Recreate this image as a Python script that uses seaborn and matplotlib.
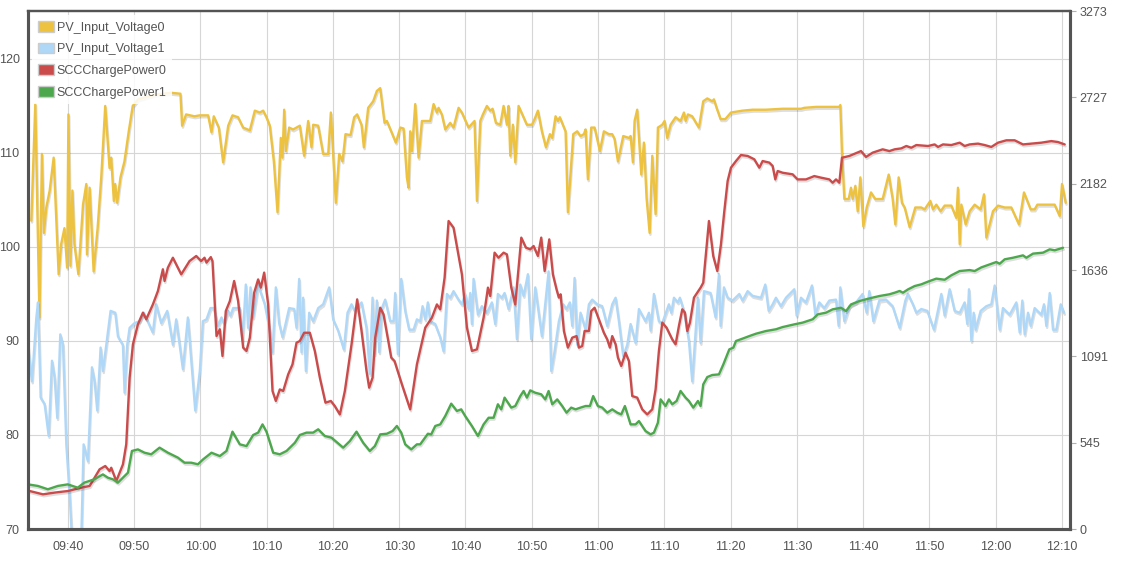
import numpy as np
import pandas as pd
import matplotlib
matplotlib.use("Agg")
import matplotlib.pyplot as plt
import matplotlib.dates as mdates
import matplotlib.patheffects as pe
from matplotlib.patches import Patch
import seaborn as sns

# ---------------- data (minutes after 09:34) ----------------
pv0_t = [0.5, 1.1, 1.73, 2.1, 2.4, 2.76, 3.27, 3.87, 4.62, 5.0,
         5.5, 5.9, 6.1, 6.4, 6.7, 7.0, 7.6, 8.3, 8.8, 8.9,
         9.3, 9.9, 10.5, 11.05, 11.65, 12.3, 12.55, 12.95, 13.15, 13.45,
         13.95, 14.55, 15.2, 15.8, 16.6, 19.1, 21.6, 23.0, 23.25, 23.85,
         25.1,
         25.92, 27.18, 27.68, 28.03, 28.79, 29.44, 30.2, 30.85, 31.7, 32.46,
         33.47, 34.22, 34.97, 35.48, 35.98, 36.48, 37.09, 37.64, 38.14, 38.39,
         38.65, 38.9, 39.4, 40.0, 41.01, 41.66, 42.27, 42.77, 43.02, 43.78,
         44.53, 45.29, 45.69, 46.04, 46.44, 46.95, 47.45, 47.9, 48.66, 49.21,
         49.66, 50.32, 50.67, 51.32, 52.08,
         52.63, 53.14, 53.79, 54.14, 54.8, 55.5, 56.16, 56.66, 57.16, 57.41,
         57.66, 57.92, 58.42, 58.92, 59.43, 60.68, 61.19, 61.69, 61.94, 62.44,
         62.95, 63.7, 64.2, 64.96, 65.46, 66.47, 67.12, 67.37, 67.73, 68.23,
         68.63, 69.23, 69.74, 70.09, 70.59, 71.25, 71.75, 72.25, 72.5, 72.76,
         73.16, 73.51, 74.01, 74.77, 75.27, 76.03, 76.43, 76.93, 77.53, 78.14,
         78.74, 79.09, 79.59, 79.94, 80.24, 81.1, 81.45, 82.26, 82.86, 83.36,
         83.87, 84.12, 84.47, 84.97, 85.48, 86.28, 86.88, 87.64, 88.14, 88.49,
         89.0, 89.8, 90.66, 90.91, 91.26, 91.51, 91.91, 92.52, 92.92, 93.32,
         93.78, 94.18, 94.68, 95.03, 95.69, 96.04, 96.44, 96.94, 97.7, 98.45,
         98.96, 99.21, 99.56, 100.21, 101.22, 101.87, 102.48, 103.23, 103.48, 103.89,
         104.49,
         105.2, 106.05, 107.81, 109.32, 111.34, 113.85, 116.62, 117.12, 118.88, 122.4,
         122.55, 122.8, 123.16, 123.81, 124.16, 124.41, 124.82, 125.17, 125.57, 126.02,
         126.53, 127.18, 127.83, 128.94, 129.85, 130.45, 130.85,
         131.35, 131.85, 132.26, 133.01, 133.86, 134.77, 135.27, 136.13, 136.53, 137.03,
         137.69, 138.29, 139.3, 140.05, 140.3, 140.56, 140.81, 141.46, 142.06, 142.82,
         143.72, 144.23, 144.58, 145.58, 146.34, 147.35, 148.35, 149.51, 150.26, 151.27,
         151.87, 152.28, 153.88, 154.89, 155.65, 156.0, 156.55]
pv0_v = [102.8, 115.2, 92.5, 109.9, 101.5, 104.2, 106, 109.5, 97.1, 100.3,
         102, 97.8, 114.1, 98, 106, 100.3, 97.1, 104.5, 106.7, 99.2,
         106.3, 97.4, 102, 107.4, 115, 108.4, 109.5, 104.9, 106.7, 104.7,
         107.4, 109.1, 112.3, 115, 115.7, 116.2, 116.4, 116.3, 112.9, 114.1,
         113.9,
         114, 114, 112.2, 113.9, 112.7, 109, 112.9, 114, 113.8, 112.7,
         112.4, 114.5, 114.3, 114.5, 113.8, 112.9, 109.1, 103.7, 111.6, 109.5,
         114.6, 110.2, 112.7, 112.5, 112.9, 109.7, 113.4, 110.6, 113, 112.9,
         109.9, 109.9, 114.3, 109.9, 104.7, 109.9, 109.1, 112, 111.9, 113.8,
         114.1, 113, 110.6, 114.8, 115.5,
         116.6, 116.9, 113.2, 113.4, 112.3, 111.1, 112.7, 112.6, 107.4, 106.3,
         112.3, 110.2, 115.2, 109.5, 113.4, 113.4, 115.2, 114.3, 114.8, 114.1,
         112.5, 113.2, 112.7, 114.8, 114.3, 112.7, 113.2, 113.4, 104.9, 113.4,
         114.1, 115, 114.5, 114.7, 113.2, 113, 115, 113, 115, 109.7,
         113, 109, 115, 113.8, 113, 113, 113.6, 114.5, 112.3, 110.6,
         112, 111.6, 113.9, 113.4, 113.8, 112.3, 103.7, 112, 112.3, 111.8,
         112, 112.5, 107.2, 112.7, 112.7, 110.2, 112.3, 112, 112, 111.5,
         109.1, 111.8, 111.6, 111.8, 109, 113.4, 114.6, 107.7, 111.1, 105.2,
         101.5, 109.7, 103.5, 112.7, 113, 113.4, 111.6, 113, 113.8, 113.4,
         114.3, 113.4, 114.1, 113.9, 112.7, 115.5, 115.8, 115.5, 115.7, 114.8,
         113.6,
         113.6, 114.3, 114.5, 114.6, 114.6, 114.7, 114.7, 114.8, 114.9, 114.9,
         115.1, 109.9, 105.1, 105.1, 106.3, 105.1, 106.5, 103.8, 107.4, 102.2,
         104.2, 105.8, 105.1, 105.1, 107.7, 105.1, 102.4,
         107.4, 104.7, 104.2, 102.1, 104.2, 104.2, 104, 104.9, 104, 104.5,
         103.8, 104.4, 104.4, 103.1, 106.3, 100.3, 104.5, 102.4, 103.8, 104.5,
         104, 105.6, 101, 103.8, 104.4, 104.2, 104.2, 102.4, 105.8, 104,
         104, 104.5, 104.5, 104.5, 103.3, 106.7, 104.7]

pv1_t = [0, 0.6, 1.26, 1.51, 1.91, 2.51, 3.12, 3.62, 4.02, 4.42,
         4.87, 5.28, 5.78, 6.28, 6.78, 7.54, 8.04, 8.39, 9.05, 9.65,
         10.05, 10.45, 10.95, 11.31, 11.81, 12.46, 13.17, 13.57, 14.32, 14.57,
         14.97, 15.33, 16.08, 16.83, 17.49, 18.84, 19.35, 20.1, 21.01, 21.86,
         22.36, 23.37, 24.12, 25.23, 25.92, 26.38, 26.93, 27.53, 28.03, 28.69,
         29.19, 29.54, 30.2, 30.55, 30.95, 31.96, 32.36, 32.86, 33.21, 33.57,
         33.97, 34.72, 35.73, 36.48, 36.89, 37.39, 37.89, 38.4, 39.4, 40.16,
         40.51, 40.91, 41.26, 41.51, 41.92, 42.42, 43.02, 43.78, 44.53, 45.44,
         46.04, 46.8, 47.65, 48.2, 48.81, 49.31, 50.32, 51.07, 51.57, 51.98,
         52.28, 52.63, 52.99, 53.39, 53.89, 54.65, 55.15, 55.4, 55.8, 56.31,
         56.91, 57.51, 58.17, 58.67, 59.17, 59.53, 59.93, 60.33, 60.68, 61.44,
         62.19, 62.7, 63.2, 63.7, 64.2, 64.96, 65.46, 65.96, 66.47, 66.72,
         66.97, 67.22, 67.88, 68.48, 69.23, 69.99, 70.49, 70.89, 71.5, 71.9,
         72.5, 73.26, 73.76, 74.27, 74.77, 75.42, 75.92, 76.53, 77.53, 78.54,
         78.94, 79.44, 80.09, 80.75, 81.25, 81.75, 82.11, 82.46, 82.86, 83.36,
         84.12, 84.62, 85.12, 85.88, 86.63, 87.39, 88.14, 88.65, 89.15, 89.8,
         90.41, 90.91, 91.66, 92.17, 93.17, 93.68, 93.93, 94.43, 95.18, 95.69,
         96.69, 97.05, 97.45, 98.05, 98.35, 98.96, 99.71, 100.21, 101.07, 101.47,
         101.98, 102.98, 103.74, 104.24, 104.49, 105.0,
         105.55, 106.3, 107.31, 107.81, 108.57, 109.32, 110.58, 111.23, 111.74, 112.34,
         112.84, 113.6, 114.35, 115.61, 115.96, 116.62, 117.37, 118.28, 118.78, 119.38,
         120.14, 120.89, 121.9, 122.3, 122.55, 123.16, 123.91, 124.92, 125.92, 126.53,
         126.93, 127.53, 128.44, 129.44, 130.45,
         131.5, 132.36, 132.76, 133.51, 134.02, 134.77, 135.68, 136.68, 137.79, 138.29,
         139.05, 139.8, 140.56, 141.31, 141.71, 141.96, 142.32, 142.67, 142.97, 143.72,
         144.58, 145.33, 145.84, 146.59, 147.09, 148.1, 149.11, 149.61, 150.01, 150.36,
         150.87, 151.27, 151.87, 152.88, 153.28, 153.63, 154.14, 154.64, 155.14, 155.8,
         156.3]
pv1_v = [89.5, 85.7, 92.5, 94.1, 84, 83.3, 79.9, 87.9, 86.1, 81.8,
         90.7, 89.6, 79, 73.7, 67, 65, 69, 79, 77.2, 87.2,
         85.7, 82.6, 89.3, 86.8, 89.6, 93.2, 93, 90.5, 89.6, 84.5,
         89.6, 91.4, 91.9, 92.1, 93, 90.9, 93.9, 91.9, 93.2, 89.6,
         92.3, 87, 92.5, 82.6, 86.8, 92.1, 92.3, 93.5, 93.5, 91.6,
         92.5, 91.9, 93.2, 92.7, 93.5, 93.5, 90, 96, 91.4, 95.7,
         92.5, 96, 93.9, 91.1, 88.8, 95.7, 91.9, 90.4, 93.5, 93.4,
         91.4, 96.6, 88.8, 94.6, 86.8, 93, 92.1, 93.5, 93.9, 95.7,
         92.3, 91.1, 89.1, 93, 93.9, 93.2, 94.1, 91.4, 86.5, 94.6,
         88.6, 94.3, 88.8, 93.5, 94.4, 92.1, 92.1, 95.1, 88.6, 96.6,
         93.2, 91.2, 91.2, 92.3, 92.1, 93.7, 92.3, 94.1, 92.1, 91.8,
         90.4, 88.9, 95, 94.6, 95.3, 94.4, 93.9, 95, 93.4, 95.1,
         91.8, 96.6, 92.8, 93.7, 93, 94.1, 91.8, 95, 94.6, 95.1,
         93.4, 95.7, 90.2, 96, 94.8, 97.1, 90.2, 95.7, 90.5, 97.4,
         86.8, 88.9, 92.1, 93.9, 93.4, 94.1, 91.6, 96.7, 89.6, 93,
         91.2, 93.9, 94.4, 93.9, 93.7, 91.6, 93.9, 94.6, 92.1, 88.4,
         89.6, 91.8, 89.8, 93.4, 92.1, 93, 91.1, 95, 92.1, 91.9,
         93.9, 93, 94.6, 94.1, 94.6, 93.2, 90, 85.7, 94.6, 89.8,
         95.3, 95.1, 92.5, 97.1, 91.6, 95.7,
         94.6, 94.3, 95, 94.3, 95.3, 94.8, 94.6, 96, 93.2, 93.9,
         94.6, 93.7, 94.6, 95.5, 92.7, 94.6, 94.1, 95.9, 92.8, 94.1,
         93.5, 94.3, 94.4, 91.6, 95.7, 92.1, 93.7, 94.1, 95, 93,
         95.3, 92.1, 94.3, 94.4, 93.7,
         91.4, 94.3, 95, 93.9, 93, 93.4, 93.2, 91.2, 95, 92.7,
         95.5, 93.2, 93, 94.1, 91.8, 95.5, 90, 93, 91.2, 93.2,
         93.7, 93.9, 95.9, 91.2, 93.5, 92.8, 94.1, 90.9, 94.3, 90.7,
         93, 91.6, 93.5, 92.8, 93.9, 91.6, 95.1, 91.2, 91.2, 93.9,
         93]

scc0_t = [0.25, 2.26, 4.02, 6.03, 8.04, 9.3, 10.8, 11.66, 12.31, 12.56,
          13.32, 14.32, 14.82, 15.33, 15.83, 16.58, 17.34, 17.84, 18.84, 19.6,
          20.35, 20.6, 21.1, 21.86, 23.12, 24.37, 25.38, 26.13, 26.63, 26.93,
          27.58, 27.83, 28.44, 28.94, 29.34, 29.84, 30.45, 31.1, 31.7, 32.46,
          32.96, 33.47, 34.12, 34.72, 35.13, 35.63, 36.23, 36.89, 37.39, 37.99,
          38.5, 39.25, 39.9, 40.51, 41.01, 41.66, 42.52, 43.27, 44.03, 44.88,
          45.69, 46.29, 47.05, 47.8, 48.81, 49.66, 50.32, 51.07, 51.47, 51.98,
          52.38, 53.14, 53.64, 54.8, 55.3, 56.41, 57.66, 58.67, 59.93, 60.93,
          61.69, 62.19, 62.85, 63.45, 64.2, 65.46, 66.22, 66.97, 67.73, 68.73,
          69.39, 69.74, 70.39, 70.99, 71.75, 72.25, 72.91, 73.51, 74.42, 75.12,
          75.77, 76.28, 76.93, 77.43, 77.94, 78.64, 79.19, 79.74, 80.09, 80.35,
          80.85, 81.45, 82.11, 82.76, 83.11, 83.61, 83.97, 84.62, 84.97, 85.48,
          86.13, 86.88, 87.39, 87.79, 88.14, 88.65, 89.0, 89.5, 90.15, 90.66,
          91.16, 91.91, 92.67, 93.42, 94.18, 94.68, 95.18, 95.69, 96.34, 97.2,
          97.7, 98.2, 98.71, 99.11, 99.46, 99.86, 100.47, 101.47, 101.87, 102.73,
          103.38, 103.99,
          104.54, 105.05, 105.55, 106.05, 106.81, 107.56, 108.57, 109.57, 110.33, 110.83,
          111.84, 112.34, 112.74, 113.1, 113.85, 115.36, 116.11, 117.37, 118.63, 119.64,
          120.89, 121.4, 121.9, 122.4, 122.8, 123.91, 125.67, 126.43, 127.43, 128.94,
          129.95, 130.75, 131.75, 132.51, 133.26, 134.02, 135.78, 136.78, 137.29, 138.04,
          139.3, 140.56, 141.31, 142.06, 143.32, 144.33, 145.33, 146.34, 147.6, 148.85,
          150.11, 151.37, 152.88, 154.39, 155.39, 156.4]
scc0_v = [240, 219, 230, 240, 261, 272, 377, 398, 366, 387,
          303, 408, 535, 956, 1167, 1293, 1367, 1325, 1419, 1504,
          1641, 1567, 1651, 1714, 1609, 1693, 1725, 1693, 1714, 1683,
          1718, 1693, 1219, 1262, 1093, 1377, 1440, 1567, 1440, 1146,
          1125, 1209, 1493, 1577, 1525, 1620, 1419, 872, 809, 882,
          872, 977, 1040, 1177, 1188, 1240, 1240, 1125, 956, 798,
          809, 777, 724, 872, 1167, 1451, 1251, 998, 893, 956,
          1209, 1398, 1356, 1083, 1061, 914, 756, 1040, 1272, 1335,
          1419, 1388, 1588, 1946, 1904, 1609, 1272, 1125, 1135, 1335,
          1525, 1472, 1746, 1714, 1746, 1735, 1525, 1419, 1841, 1778,
          1767, 1788, 1725, 1841, 1630, 1830, 1609, 1514, 1462, 1483,
          1251, 1146, 1209, 1219, 1146, 1156, 1251, 1251, 1377, 1398,
          1325, 1240, 1198, 1146, 1219, 1167, 1083, 1030, 1114, 1061,
          840, 830, 756, 724, 756, 882, 1125, 1304, 1272, 1198,
          1167, 1283, 1388, 1367, 1251, 1304, 1462, 1525, 1556, 1946,
          1725, 1630,
          1798, 2009, 2199, 2283, 2325, 2363, 2357, 2336, 2283, 2325,
          2315, 2294, 2209, 2262, 2251, 2241, 2209, 2209, 2230, 2220,
          2209, 2188, 2209, 2188, 2346, 2357, 2388, 2351, 2378, 2399,
          2388, 2399, 2405, 2420, 2409, 2426, 2420, 2430, 2414, 2430,
          2426, 2441, 2420, 2430, 2435, 2426, 2414, 2441, 2456, 2456,
          2430, 2435, 2441, 2451, 2445, 2430]

scc1_t = [0, 1.5, 3.0, 4.5, 6.0, 7.5, 8.5, 10.0, 11.3, 12.06,
          12.81, 13.57, 14.57, 15.08, 15.68, 16.58, 17.59, 18.59, 19.85, 21.11,
          22.61, 23.62, 24.62, 25.63, 26.42, 27.68, 28.94, 29.94, 30.85, 31.96,
          32.96, 33.97, 34.72, 35.38, 35.98, 36.99, 37.99, 39.0, 40.26, 41.01,
          42.02, 43.02, 43.78, 44.78, 45.79, 47.55, 48.56, 49.56, 50.57, 51.57,
          52.33, 53.14, 54.14, 55.0, 55.65, 56.31, 56.91, 57.82, 58.67, 59.17,
          60.33, 60.83, 61.44, 62.19, 62.95, 63.85, 64.71, 65.36, 65.96, 66.97,
          67.88, 68.73, 69.49, 70.24, 70.89, 71.4, 71.9, 72.91, 73.51, 74.27,
          74.77, 75.27, 75.77, 76.53, 77.43, 78.04, 78.54, 79.09, 79.84, 80.6,
          81.25, 81.95, 82.61, 83.36, 84.12, 84.77, 85.27, 85.98, 86.63, 87.39,
          88.14, 88.9, 89.5, 90.05, 90.91, 91.66, 92.17, 93.17, 93.93, 94.43,
          95.03, 95.44, 96.19, 96.69, 97.2, 97.85, 98.45, 99.21, 99.71, 100.37,
          101.07, 101.47, 101.87, 102.48, 103.23, 104.24, 104.9, 105.8, 106.41, 106.81,
          107.81, 108.82, 109.83, 111.34, 112.84, 113.85, 115.61, 116.87, 118.38, 119.13,
          120.39, 121.4, 122.65, 123.41, 124.16, 125.42, 126.93, 128.44, 129.95, 130.75,
          131.5, 132.0, 132.76, 133.76, 134.77, 135.78, 137.03, 138.29, 139.3, 140.56,
          142.06, 142.82, 143.82, 145.08, 146.09, 146.59, 147.35, 148.6, 150.11, 150.62,
          151.62, 153.13, 154.14, 154.89, 156.15]
scc1_v = [282, 272, 251, 272, 282, 261, 293, 314, 345, 324,
          314, 293, 335, 356, 493, 503, 482, 472, 514, 482,
          451, 419, 419, 409, 440, 482, 461, 493, 615, 535,
          524, 594, 609, 661, 615, 482, 472, 493, 545, 594,
          609, 609, 630, 588, 577, 514, 556, 615, 545, 493,
          524, 598, 602, 619, 651, 609, 535, 503, 535, 535,
          602, 598, 651, 661, 714, 792, 746, 756, 714, 651,
          588, 661, 703, 703, 788, 756, 830, 767, 777, 840,
          872, 830, 876, 861, 851, 819, 872, 788, 819, 777,
          735, 767, 756, 767, 777, 777, 840, 777, 767, 735,
          756, 735, 724, 777, 661, 661, 682, 619, 598, 609,
          672, 819, 777, 819, 788, 809, 872, 830, 809, 767,
          809, 777, 914, 960, 973, 977, 1040, 1135, 1146, 1188,
          1203, 1219, 1234, 1251, 1262, 1276, 1293, 1304, 1325, 1356,
          1367, 1388, 1398, 1377, 1419, 1440, 1457, 1472, 1483, 1493,
          1504, 1493, 1514, 1535, 1546, 1563, 1582, 1575, 1603, 1630,
          1636, 1630, 1653, 1672, 1687, 1676, 1704, 1714, 1729, 1714,
          1740, 1746, 1767, 1761, 1777]

series_names = ["PV_Input_Voltage0", "PV_Input_Voltage1", "SCCChargePower0", "SCCChargePower1"]
series_colors = ["#edc240", "#afd8f8", "#cb4b4b", "#4da74d"]
left_ticks = [70, 80, 90, 100, 110, 120]
right_ticks = [0, 545, 1091, 1636, 2182, 2727, 3273]

# ---------------- plotting ----------------
sns.set_style("white")
plt.rcParams["font.family"] = ["Liberation Sans", "DejaVu Sans"]

base = pd.Timestamp("2024-01-01 09:34:00")


def to_time(mins):
    return base + pd.to_timedelta(np.asarray(mins, dtype=float), unit="min")


fig = plt.figure(figsize=(11.24, 5.71), dpi=100)
W, H = 1124, 571
ax = fig.add_axes([28 / W, 1 - 529 / H, (1070 - 28) / W, (529 - 11) / H])
ax2 = ax.twinx()

lw = 1.7
shadow = [pe.SimpleLineShadow(offset=(0.6, -1.4), shadow_color="black", alpha=0.13), pe.Normal()]

data = [(pv0_t, pv0_v, ax), (pv1_t, pv1_v, ax), (scc0_t, scc0_v, ax2), (scc1_t, scc1_v, ax2)]
for (t, v, a), color in zip(data, series_colors):
    sns.lineplot(x=to_time(t), y=np.asarray(v, dtype=float), ax=a, color=color,
                 linewidth=lw, estimator=None, legend=False)
    a.lines[-1].set_path_effects(shadow)

ax.set_xlim(base, base + pd.Timedelta(minutes=157.2))
ax.set_ylim(70, 125.1)
ax2.set_ylim(0, 3273)
ax.set_yticks(left_ticks)
ax2.set_yticks(right_ticks)
ax.set_xlabel("")
ax.set_ylabel("")
ax2.set_ylabel("")

ax.xaxis.set_major_locator(mdates.MinuteLocator(byminute=range(0, 60, 10)))
ax.xaxis.set_major_formatter(mdates.DateFormatter("%H:%M"))

tick_color = "#545454"
ax.tick_params(axis="x", length=0, pad=9, labelsize=9, colors=tick_color)
ax.tick_params(axis="y", length=0, pad=6, labelsize=9, colors=tick_color)
ax2.tick_params(axis="y", length=4, width=0.8, pad=3, labelsize=9, colors=tick_color)
ax2.tick_params(axis="y", color="#b0b0b0")

ax.grid(True, color="#d6d6d6", linewidth=0.8)
ax2.grid(False)
ax.set_axisbelow(True)

for a in (ax, ax2):
    for side, sp in a.spines.items():
        sp.set_visible(True)
        sp.set_color("#545454")
        sp.set_linewidth(2.2)
ax2.spines["top"].set_linewidth(1.6)
ax.spines["top"].set_linewidth(1.6)

handles = [Patch(facecolor=c, edgecolor="#cccccc", linewidth=1.0, label=n)
           for n, c in zip(series_names, series_colors)]
leg = ax2.legend(handles=handles, loc="upper left", bbox_to_anchor=(0.0, 1.0),
                 fontsize=9, frameon=True, fancybox=False, framealpha=0.85,
                 borderaxespad=0.35, borderpad=0.45, labelspacing=0.72,
                 handlelength=1.25, handleheight=0.95, handletextpad=0.25)
leg.get_frame().set_facecolor("white")
leg.get_frame().set_edgecolor("none")
for txt in leg.get_texts():
    txt.set_color("#545454")
leg.set_zorder(10)

fig.savefig("out.png", dpi=100)
